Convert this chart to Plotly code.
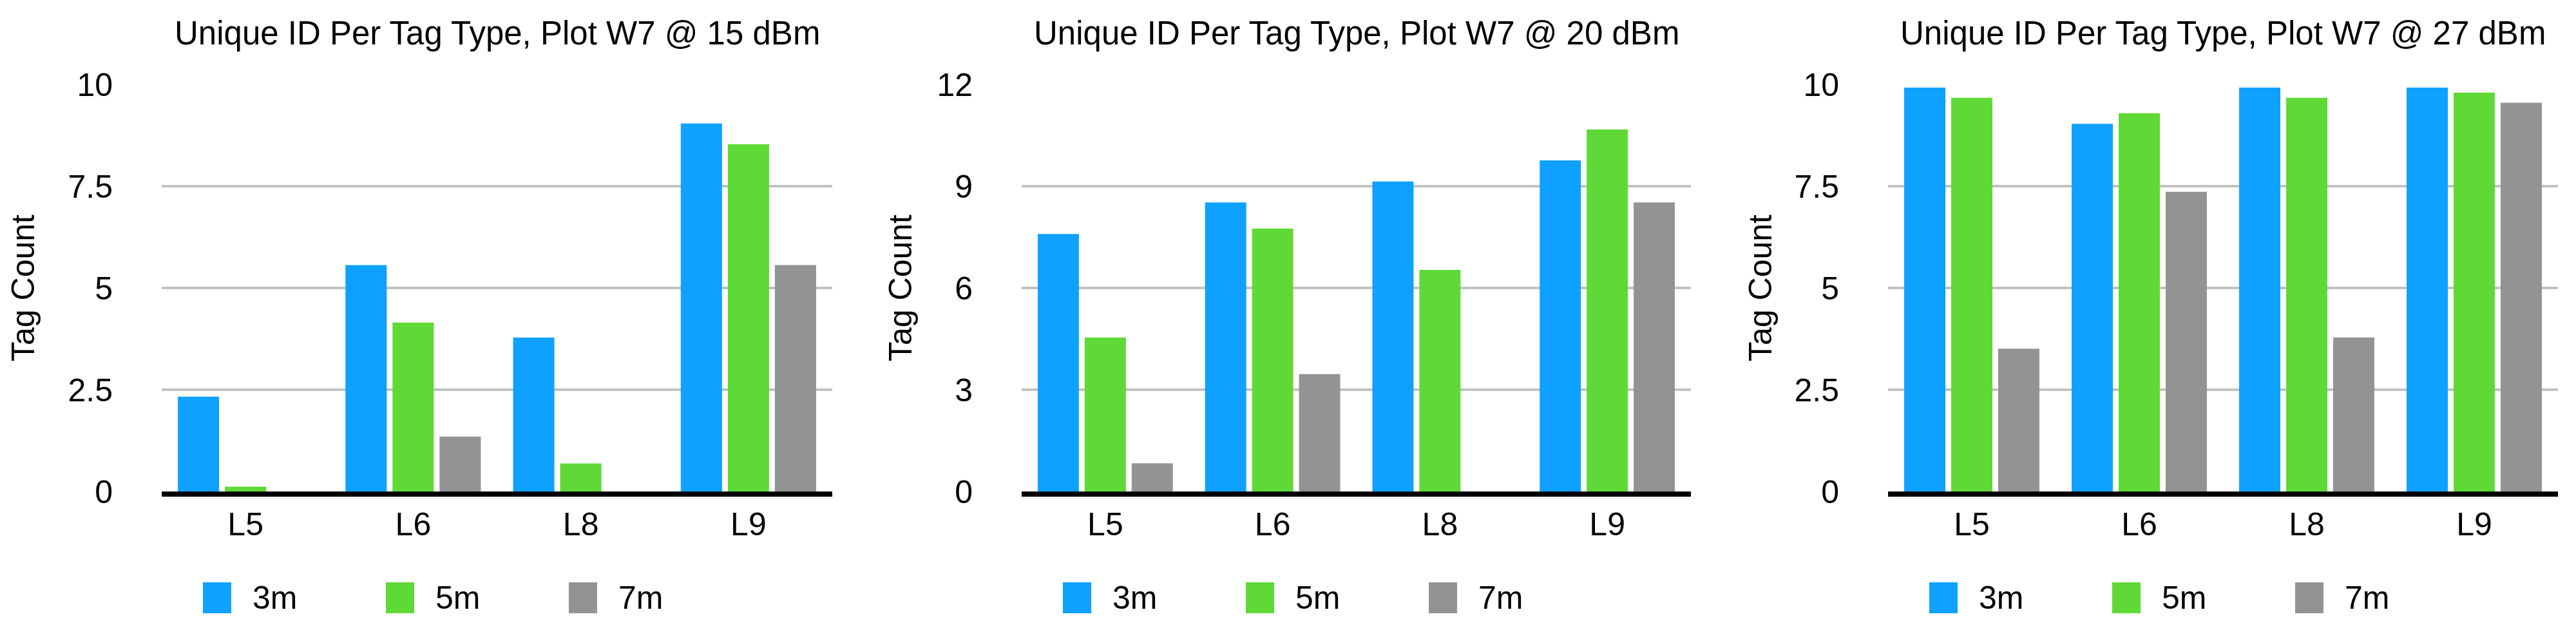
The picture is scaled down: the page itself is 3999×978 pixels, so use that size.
import plotly.graph_objects as go

# ---------------- data ----------------
categories = ["L5", "L6", "L8", "L9"]
series_names = ["3m", "5m", "7m"]

titles = [
    "Unique ID Per Tag Type, Plot W7 @ 15 dBm",
    "Unique ID Per Tag Type, Plot W7 @ 20 dBm",
    "Unique ID Per Tag Type, Plot W7 @ 27 dBm",
]
y_title = "Tag Count"

p15_3m = [2.33, 5.56, 3.78, 9.04]
p15_5m = [0.12, 4.15, 0.69, 8.53]
p15_7m = [0.0, 1.35, 0.0, 5.56]

p20_3m = [7.59, 8.52, 9.14, 9.76]
p20_5m = [4.54, 7.75, 6.53, 10.67]
p20_7m = [0.83, 3.46, 0.0, 8.52]

p27_3m = [9.92, 9.03, 9.92, 9.92]
p27_5m = [9.67, 9.29, 9.67, 9.80]
p27_7m = [3.51, 7.36, 3.78, 9.55]

y_max = [10, 12, 10]
y_dtick = [2.5, 3, 2.5]

panels = [
    [p15_3m, p15_5m, p15_7m],
    [p20_3m, p20_5m, p20_7m],
    [p27_3m, p27_5m, p27_7m],
]

# ---------------- style ----------------
colors = ["#0FA1FF", "#5FD936", "#939393"]
FONT = "Liberation Sans, Arial, Helvetica, sans-serif"
W, H = 3999, 978
L, R, T, B = 243, 36, 123, 223
plot_w = W - L - R
plot_h = H - T - B

panel_px = [(243, 1284), (1578, 2617), (2923, 3963)]


def px_x(px):
    return (px - L) / plot_w


def px_y(py):
    return (H - B - py) / plot_h


fig = go.Figure()

for i, data in enumerate(panels):
    ax = "" if i == 0 else str(i + 1)
    for j, vals in enumerate(data):
        fig.add_trace(go.Bar(
            x=categories, y=vals, name=series_names[j],
            marker=dict(color=colors[j], line=dict(width=0)),
            xaxis="x" + ax, yaxis="y" + ax,
            showlegend=False,
        ))

layout = dict(
    width=W, height=H,
    margin=dict(l=L, r=R, t=T, b=B, pad=0),
    paper_bgcolor="white", plot_bgcolor="white",
    barmode="group", bargap=0.158, bargroupgap=0.123,
    font=dict(family=FONT, size=50, color="black"),
    showlegend=False,
)

standoffs = [38, 22, 18]
annotations = []
shapes = []
for i in range(3):
    ax = "" if i == 0 else str(i + 1)
    x0, x1 = panel_px[i]
    layout["xaxis" + ax] = dict(
        domain=[px_x(x0), px_x(x1)],
        anchor="y" + ax,
        showline=True, linecolor="black", linewidth=8,
        showgrid=False, ticks="", ticklabelstandoff=0,
        tickfont=dict(size=50, color="black"),
        fixedrange=True,
    )
    layout["yaxis" + ax] = dict(
        domain=[0, 1],
        anchor="x" + ax,
        range=[0, y_max[i]], dtick=y_dtick[i], tick0=0,
        showgrid=True, gridcolor="#C2C2C2", gridwidth=3.5,
        zeroline=False, showline=False, ticks="",
        ticklabelstandoff=75,
        tickfont=dict(size=50, color="black"),
        title=dict(text=y_title, font=dict(size=50, color="black"), standoff=standoffs[i]),
        fixedrange=True,
    )
    # panel title
    annotations.append(dict(
        text=titles[i], xref="paper", yref="paper",
        x=px_x((x0 + x1) / 2), y=px_y(43),
        xanchor="center", yanchor="middle", showarrow=False,
        font=dict(size=51, color="black", family=FONT),
    ))
    # manual legend (large swatches)
    for j, name in enumerate(series_names):
        sx = x0 + 64 + j * 284
        shapes.append(dict(
            type="rect", xref="paper", yref="paper",
            x0=px_x(sx), x1=px_x(sx + 44), y0=px_y(944), y1=px_y(896),
            fillcolor=colors[j], line=dict(width=0),
        ))
        annotations.append(dict(
            text=name, xref="paper", yref="paper",
            x=px_x(sx + 75), y=px_y(920),
            xanchor="left", yanchor="middle", showarrow=False,
            font=dict(size=50, color="black", family=FONT),
        ))

layout["annotations"] = annotations
layout["shapes"] = shapes
fig.update_layout(**layout)

fig.write_html("out.html")
